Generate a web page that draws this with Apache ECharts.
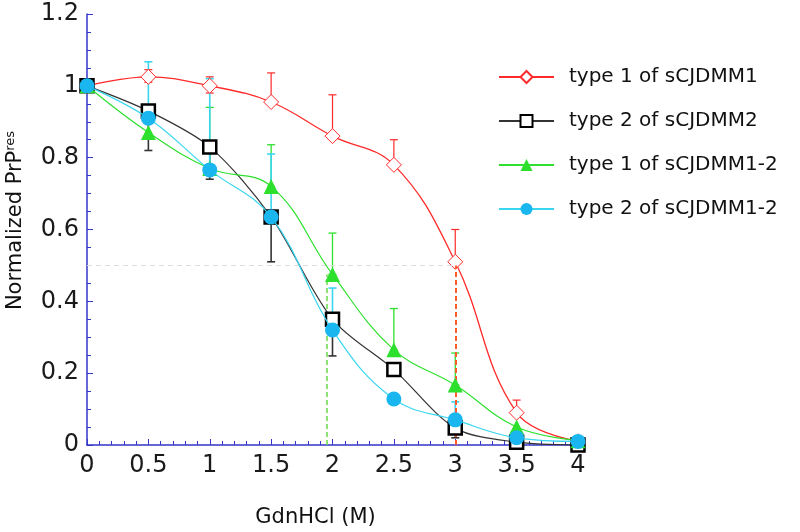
<!DOCTYPE html>
<html>
<head>
<meta charset="utf-8">
<script src="https://cdn.jsdelivr.net/npm/echarts@6/dist/echarts.min.js"></script>
<style>html,body{margin:0;padding:0;background:#fff}#c{width:800px;height:532px}</style>
</head>
<body>
<div id="c"></div>
<script>
// ---- data ----
const xValues = [0, 0.5, 1, 1.5, 2, 2.5, 3, 3.5, 4];
const seriesNames = ['type 1 of sCJDMM1', 'type 2 of sCJDMM2', 'type 1 of sCJDMM1-2', 'type 2 of sCJDMM1-2'];
const redVals   = [1.0, 1.025, 1.0, 0.955, 0.86, 0.78, 0.51, 0.09, 0.01];
const blackVals = [1.0, 0.93, 0.83, 0.635, 0.35, 0.21, 0.047, 0.008, 0.0];
const greenVals = [1.0, 0.87, 0.77, 0.72, 0.475, 0.265, 0.167, 0.05, 0.012];
const cyanVals  = [1.0, 0.91, 0.766, 0.635, 0.32, 0.128, 0.07, 0.02, 0.01];
// error bars: [x, low, high]
const redErr   = [[0.5, 1.01, 1.045], [1, 0.98, 1.025], [1.5, 0.955, 1.036], [2, 0.86, 0.975], [2.5, 0.78, 0.85], [3, 0.51, 0.6], [3.5, 0.09, 0.125]];
const blackErr = [[0.5, 0.82, 0.93], [1, 0.74, 0.83], [1.5, 0.51, 0.635], [2, 0.248, 0.35], [3, 0.02, 0.047]];
const greenErr = [[1, 0.77, 0.94], [1.5, 0.72, 0.836], [2, 0.475, 0.59], [2.5, 0.265, 0.38], [3, 0.167, 0.256]];
const cyanErr  = [[0.5, 0.91, 1.067], [1, 0.766, 1.02], [1.5, 0.635, 0.81], [2, 0.32, 0.437], [3, 0.07, 0.12]];
// reference lines
const halfLevel = 0.5;
const halfLineEndX = 3;
const greenMidX = 1.95;
const greenMidY = 0.475;
const redMidX = 3;
const redMidY = 0.5;
const xTicks = [0, 0.5, 1, 1.5, 2, 2.5, 3, 3.5, 4];
const yTicks = [0, 0.2, 0.4, 0.6, 0.8, 1, 1.2];

// ---- chart ----
const colors = ['#ff2a2a', '#222222', '#2ee02e', '#3ad6f0'];
const FONT = '"DejaVu Sans", "Liberation Sans", Arial, sans-serif';
const chart = echarts.init(document.getElementById('c'));

function pairs(vals) { return xValues.map((x, i) => [x, vals[i]]); }

function errSeries(data, color, width) {
  return {
    type: 'custom',
    z: 3,
    silent: true,
    data: data,
    renderItem: function (params, api) {
      const x = api.value(0), lo = api.value(1), hi = api.value(2);
      const p1 = api.coord([x, lo]);
      const p2 = api.coord([x, hi]);
      const w = 4;
      const style = { stroke: color, lineWidth: width };
      return {
        type: 'group',
        children: [
          { type: 'line', shape: { x1: p1[0], y1: p1[1], x2: p2[0], y2: p2[1] }, style: style },
          { type: 'line', shape: { x1: p1[0] - w, y1: p1[1], x2: p1[0] + w, y2: p1[1] }, style: style },
          { type: 'line', shape: { x1: p2[0] - w, y1: p2[1], x2: p2[0] + w, y2: p2[1] }, style: style }
        ]
      };
    }
  };
}

const option = {
  animation: false,
  backgroundColor: '#ffffff',
  textStyle: { fontFamily: FONT },
  grid: { left: 87, right: 222, top: 14, bottom: 87, containLabel: false, outerBoundsMode: 'none' },
  legend: {
    orient: 'vertical',
    left: 493,
    top: 62,
    itemWidth: 55,
    itemHeight: 15,
    itemGap: 24,
    data: seriesNames,
    textStyle: { fontSize: 20, color: '#111', fontFamily: FONT, padding: [0, 0, 0, 10] }
  },
  xAxis: {
    type: 'value',
    min: 0, max: 4, interval: 0.5,
    name: 'GdnHCl (M)',
    nameLocation: 'middle',
    nameGap: 62,
    nameTextStyle: { fontSize: 21, color: '#111', fontFamily: FONT, padding: [0, 34, 0, 0] },
    axisLine: { lineStyle: { color: '#3535c8', width: 1.5 } },
    axisTick: { inside: true, length: 6, lineStyle: { color: '#3535c8' } },
    minorTick: { show: true, splitNumber: 5, length: 4, lineStyle: { color: '#3535c8' } },
    splitLine: { show: false },
    axisLabel: { fontSize: 24, color: '#1a1a1a', margin: 9, fontFamily: FONT,
      formatter: function (v) { return xTicks.indexOf(v) >= 0 ? String(v) : ''; } }
  },
  yAxis: {
    type: 'value',
    min: 0, max: 1.2, interval: 0.2,
    name: 'Normalized PrP{sup|res}',
    nameLocation: 'middle',
    nameGap: 60,
    nameRotate: 90,
    nameTextStyle: { fontSize: 21, color: '#111', fontFamily: FONT, padding: [0, 0, 0, 18],
      rich: { sup: { fontSize: 13, verticalAlign: 'top', padding: [0, 0, 10, 0], color: '#111', fontFamily: FONT } } },
    axisLine: { show: true, lineStyle: { color: '#3535c8', width: 1.5 } },
    axisTick: { inside: true, length: 6, lineStyle: { color: '#3535c8' } },
    minorTick: { show: true, splitNumber: 4, length: 4, lineStyle: { color: '#3535c8' } },
    splitLine: { show: false },
    axisLabel: { fontSize: 24, color: '#1a1a1a', margin: 8, fontFamily: FONT,
      formatter: function (v) { const r = Math.round(v * 10) / 10; return yTicks.indexOf(r) >= 0 ? String(r) : ''; } }
  },
  series: [
    errSeries(redErr, colors[0], 1.2),
    errSeries(blackErr, '#333333', 1.6),
    errSeries(greenErr, colors[2], 1.3),
    errSeries(cyanErr, colors[3], 1.6),
    {
      name: seriesNames[0], type: 'line', smooth: 0.4, z: 4,
      data: pairs(redVals),
      symbol: 'diamond', symbolSize: 15,
      lineStyle: { color: colors[0], width: 1.3 },
      itemStyle: { color: '#ffffff', borderColor: colors[0], borderWidth: 1 },
      markLine: {
        silent: true, symbol: 'none', label: { show: false },
        data: [
          [{ coord: [0, halfLevel], lineStyle: { color: '#dddddd', type: [5, 4], width: 1 } }, { coord: [halfLineEndX, halfLevel] }],
          [{ coord: [redMidX, 0], lineStyle: { color: '#ff5a2a', type: [5, 3], width: 2 } }, { coord: [redMidX, redMidY] }],
          [{ coord: [greenMidX, 0], lineStyle: { color: '#66dd44', type: [5, 3], width: 1.5 } }, { coord: [greenMidX, greenMidY] }]
        ]
      }
    },
    {
      name: seriesNames[1], type: 'line', smooth: 0.3, z: 5,
      data: pairs(blackVals),
      symbol: 'rect', symbolSize: 13,
      lineStyle: { color: '#333333', width: 1.2 },
      itemStyle: { color: '#ffffff', borderColor: '#000000', borderWidth: 2.5 }
    },
    {
      name: seriesNames[2], type: 'line', smooth: 0.4, z: 6,
      data: pairs(greenVals),
      symbol: 'triangle', symbolSize: 15,
      lineStyle: { color: colors[2], width: 1.2 },
      itemStyle: { color: colors[2] }
    },
    {
      name: seriesNames[3], type: 'line', smooth: 0.4, z: 7,
      data: pairs(cyanVals),
      symbol: 'circle', symbolSize: 15,
      lineStyle: { color: colors[3], width: 1.2 },
      itemStyle: { color: '#1ab6ef' }
    }
  ]
};
chart.setOption(option);
</script>
</body>
</html>
